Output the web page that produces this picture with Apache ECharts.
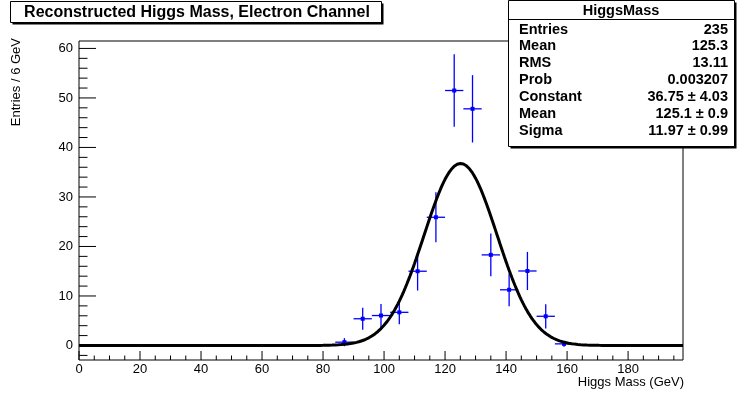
<!DOCTYPE html>
<html>
<head>
<meta charset="utf-8">
<script src="https://cdn.jsdelivr.net/npm/echarts@6/dist/echarts.min.js"></script>
<style>html,body{margin:0;padding:0;background:#fff;}#c{width:737px;height:394px;}</style>
</head>
<body>
<div id="c"></div>
<script>
// ---- data ----
const binCenters = [87, 93, 99, 105, 111, 117, 123, 129, 135, 141, 147, 153, 159];
const binCounts  = [0.67, 5.4, 6.05, 6.7, 15.0, 25.9, 51.5, 47.8, 18.3, 11.25, 15.05, 5.9, 0.33];
const binErrors  = [0.82, 2.2, 2.35, 2.4, 3.9, 5.05, 7.3, 6.8, 4.3, 3.3, 3.85, 2.45, 0.57];
const binWidth = 6;
const fitConstant = 36.75;
const fitMean = 125.1;
const fitSigma = 11.97;
const xTickValues = [0, 20, 40, 60, 80, 100, 120, 140, 160, 180];
const yTickValues = [0, 10, 20, 30, 40, 50, 60];
const statLabels = ['Entries', 'Mean', 'RMS', 'Prob', 'Constant', 'Mean', 'Sigma'];
const statValues = ['235', '125.3', '13.11', '0.003207', '36.75 \u00b1 4.03', '125.1 \u00b1 0.9', '11.97 \u00b1 0.99'];
const histName = 'HiggsMass';
const chartTitle = 'Reconstructed Higgs Mass, Electron Channel';
const xTitle = 'Higgs Mass (GeV)';
const yTitle = 'Entries / 6 GeV';

// ---- axis extents ----
const X_MIN = 0, X_MAX = 198, Y_MIN = -2.93, Y_MAX = 61.5;
const FONT = '"Liberation Sans", Arial, Helvetica, sans-serif';

const pointData = binCenters.map((c, i) => [c, binCounts[i], binErrors[i]]);
const curveData = [];
for (let x = X_MIN; x <= X_MAX + 1e-9; x += 0.5) {
  const z = (x - fitMean) / fitSigma;
  curveData.push([x, fitConstant * Math.exp(-0.5 * z * z)]);
}
// tick items: [axis(0=x,1=y), value, major(1/0)]
const tickData = [];
xTickValues.forEach(v => tickData.push([0, v, 1]));
for (let v = X_MIN; v < X_MAX; v += 5) if (v % 20 !== 0) tickData.push([0, v, 0]);
yTickValues.forEach(v => tickData.push([1, v, 1]));
for (let v = -2; v < Y_MAX; v += 2) if (v % 10 !== 0) tickData.push([1, v, 0]);

const chart = echarts.init(document.getElementById('c'), null, {renderer: 'canvas'});

const SF = 'bold 14.5px ' + FONT;
const statChildren = [
  {type: 'rect', shape: {x: 510.5, y: 2.5, width: 226, height: 146}, style: {fill: '#000'}},
  {type: 'rect', shape: {x: 508.5, y: 0.5, width: 226, height: 146}, style: {fill: '#fff', stroke: '#000', lineWidth: 1}},
  {type: 'line', shape: {x1: 508.5, y1: 19.5, x2: 734.5, y2: 19.5}, style: {stroke: '#000', lineWidth: 1}},
  {type: 'text', x: 621, y: 10.5, style: {text: histName, font: SF, fill: '#000', align: 'center', verticalAlign: 'middle'}}
];
statLabels.forEach((l, i) => {
  const y = 29.5 + i * 16.9;
  statChildren.push({type: 'text', x: 519, y: y, style: {text: l, font: SF, fill: '#000', align: 'left', verticalAlign: 'middle'}});
  statChildren.push({type: 'text', x: 728, y: y, style: {text: statValues[i], font: SF, fill: '#000', align: 'right', verticalAlign: 'middle'}});
});

const option = {
  animation: false,
  backgroundColor: '#fff',
  grid: {left: 79, right: 54, top: 41, bottom: 34, show: true, borderColor: '#000', borderWidth: 1, backgroundColor: 'transparent'},
  xAxis: {type: 'value', min: X_MIN, max: X_MAX, axisLine: {show: false}, axisTick: {show: false}, axisLabel: {show: false}, splitLine: {show: false}},
  yAxis: {type: 'value', min: Y_MIN, max: Y_MAX, axisLine: {show: false}, axisTick: {show: false}, axisLabel: {show: false}, splitLine: {show: false}},
  series: [
    {
      type: 'custom', name: 'ticks', clip: false, silent: true, z: 5,
      data: tickData,
      renderItem: function (params, api) {
        const axis = api.value(0), v = api.value(1), major = api.value(2);
        if (axis === 0) {
          const p = api.coord([v, Y_MIN]);
          const len = major ? 9 : 4.5;
          const children = [{type: 'line', shape: {x1: p[0], y1: p[1], x2: p[0], y2: p[1] - len}, style: {stroke: '#000', lineWidth: 1}}];
          if (major) children.push({type: 'text', x: p[0], y: p[1] + 3, style: {text: String(v), font: '13px ' + FONT, fill: '#000', align: 'center', verticalAlign: 'top'}});
          return {type: 'group', children: children};
        } else {
          const p = api.coord([X_MIN, v]);
          const len = major ? 17 : 8.5;
          const children = [{type: 'line', shape: {x1: p[0], y1: p[1], x2: p[0] + len, y2: p[1]}, style: {stroke: '#000', lineWidth: 1}}];
          if (major) children.push({type: 'text', x: p[0] - 6, y: p[1], style: {text: String(v), font: '13px ' + FONT, fill: '#000', align: 'right', verticalAlign: 'middle'}});
          return {type: 'group', children: children};
        }
      }
    },
    {
      type: 'custom', name: 'data', clip: false, z: 6,
      data: pointData,
      renderItem: function (params, api) {
        const x = api.value(0), y = api.value(1), e = api.value(2);
        const c = api.coord([x, y]);
        const top = api.coord([x, y + e]);
        const bot = api.coord([x, Math.max(y - e, Y_MIN)]);
        const l = api.coord([x - binWidth / 2, y]);
        const r = api.coord([x + binWidth / 2, y]);
        return {type: 'group', children: [
          {type: 'line', shape: {x1: c[0], y1: top[1], x2: c[0], y2: bot[1]}, style: {stroke: '#0000ff', lineWidth: 1.3}},
          {type: 'line', shape: {x1: l[0], y1: c[1], x2: r[0], y2: c[1]}, style: {stroke: '#0000ff', lineWidth: 1.3}},
          {type: 'rect', shape: {x: c[0] - 2, y: c[1] - 2, width: 4, height: 4}, style: {fill: '#0000ff'}}
        ]};
      }
    },
    {
      type: 'line', name: 'fit', data: curveData, showSymbol: false, symbol: 'none', z: 7,
      lineStyle: {color: '#000', width: 3}, silent: true
    }
  ],
  graphic: [
    {type: 'group', z: 100, children: [
      {type: 'rect', shape: {x: 12.5, y: 3.5, width: 371, height: 21}, style: {fill: '#000'}},
      {type: 'rect', shape: {x: 10.5, y: 1.5, width: 371, height: 21}, style: {fill: '#fff', stroke: '#000', lineWidth: 1}},
      {type: 'text', x: 197, y: 12.5, style: {text: chartTitle, font: 'bold 16px ' + FONT, fill: '#000', align: 'center', verticalAlign: 'middle'}}
    ]},
    {type: 'group', z: 100, children: statChildren},
    {type: 'text', z: 100, x: 684, y: 382, style: {text: xTitle, font: '13px ' + FONT, fill: '#000', align: 'right', verticalAlign: 'middle'}},
    {type: 'text', z: 100, x: 16, y: 38, rotation: Math.PI / 2, style: {text: yTitle, font: '13px ' + FONT, fill: '#000', align: 'right', verticalAlign: 'middle'}}
  ]
};
chart.setOption(option);
</script>
</body>
</html>
